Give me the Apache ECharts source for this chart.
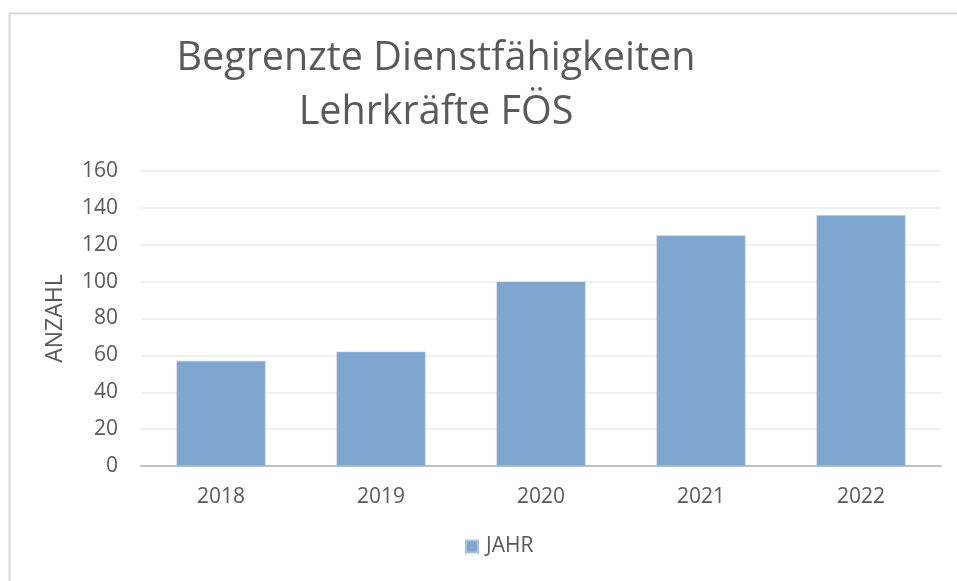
<!DOCTYPE html>
<html lang="de">
<head>
  <meta charset="UTF-8">
  <title>Begrenzte Dienstfähigkeiten</title>
  <script src="https://cdn.jsdelivr.net/npm/echarts@6/dist/echarts.min.js"></script>
  <style>
    html, body { margin: 0; padding: 0; background: #fff; }
    #chart { width: 957px; height: 581px; }
  </style>
</head>
<body>
  <div id="chart"></div>
  <script>
    // Daten
    const years = ['2018', '2019', '2020', '2021', '2022'];
    const anzahl = [57, 62, 100, 125, 136];
    const yTicks = { min: 0, max: 160, interval: 20 };

    const textColor = '#595959';
    const font = '"Open Sans", "Noto Sans", sans-serif';

    const chart = echarts.init(document.getElementById('chart'), null, { renderer: 'canvas' });
    chart.setOption({
      animation: false,
      textStyle: { fontFamily: font },
      graphic: [{
        type: 'rect',
        shape: { x: 9.5, y: 13.5, width: 960, height: 600 },
        style: { fill: 'none', stroke: '#d9d9d9', lineWidth: 2 },
        silent: true
      }],
      title: {
        text: 'Begrenzte Dienstfähigkeiten\nLehrkräfte FÖS',
        left: 431,
        top: 27,
        textAlign: 'center',
        textStyle: {
          color: textColor,
          fontSize: 39.5,
          fontWeight: 'normal',
          lineHeight: 54,
          fontFamily: font
        }
      },
      legend: {
        data: ['JAHR'],
        bottom: 19,
        left: 460,
        itemWidth: 12,
        itemHeight: 12,
        icon: 'rect',
        textStyle: { color: textColor, fontSize: 21, fontFamily: font, padding: [0, 0, 0, 3] }
      },
      grid: { left: 141, right: 16, top: 171, bottom: 115 },
      xAxis: {
        type: 'category',
        data: years,
        axisLine: { lineStyle: { color: '#bfbfbf', width: 2 } },
        axisTick: { show: false },
        axisLabel: { color: textColor, fontSize: 21, margin: 21 }
      },
      yAxis: {
        type: 'value',
        min: yTicks.min,
        max: yTicks.max,
        interval: yTicks.interval,
        name: 'ANZAHL',
        nameLocation: 'middle',
        nameRotate: 90,
        nameGap: 74,
        nameTextStyle: { color: textColor, fontSize: 23 },
        axisLine: { show: false },
        axisTick: { show: false },
        axisLabel: { color: textColor, fontSize: 21, margin: 23 },
        splitLine: { lineStyle: { color: '#ebebeb', width: 1.5 } }
      },
      series: [{
        name: 'JAHR',
        type: 'bar',
        data: anzahl,
        barWidth: '55.5%',
        itemStyle: { color: '#7fa6d0', borderColor: '#a9c3e0', borderWidth: 0.5 }
      }]
    });
  </script>
</body>
</html>
